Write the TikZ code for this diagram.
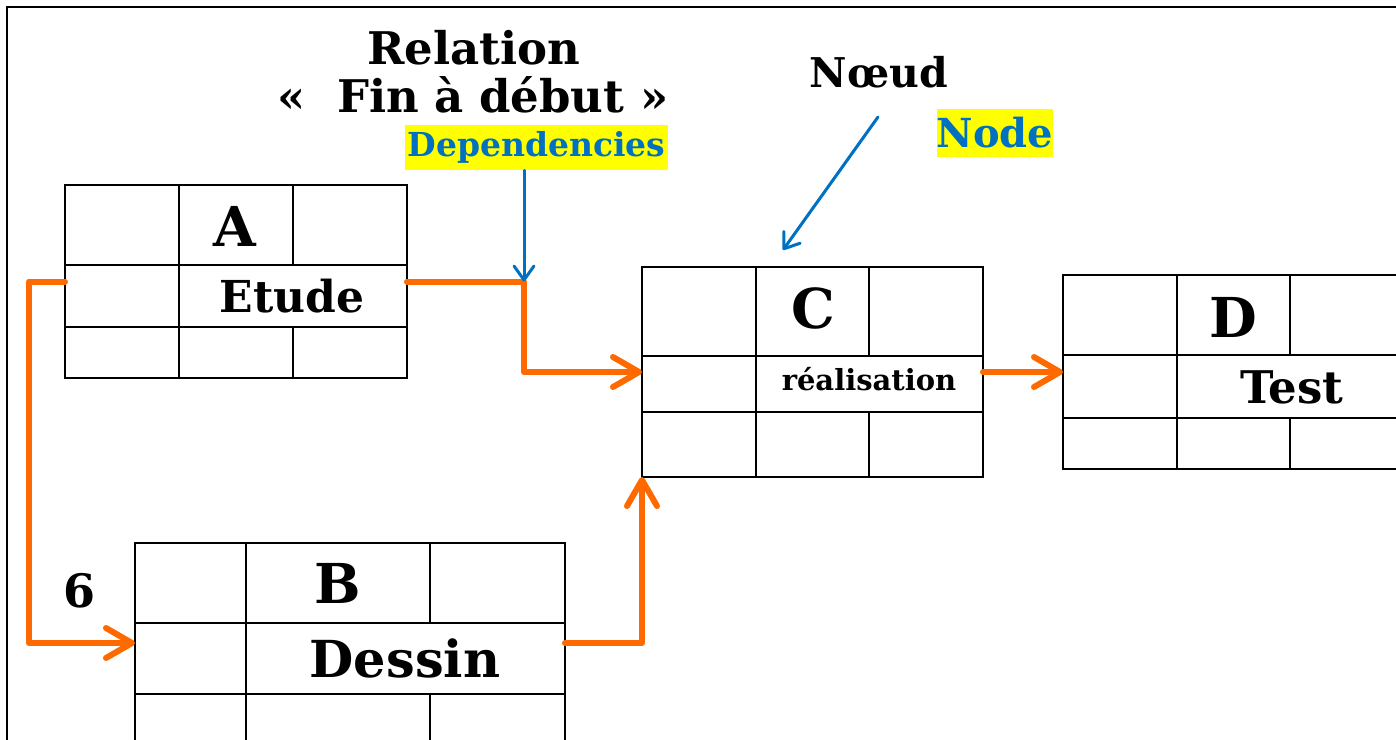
\documentclass[tikz,border=0pt]{standalone}
\usepackage{fontspec}
\setmainfont{DejaVu Serif}
\usetikzlibrary{arrows.meta,fit,calc}
\definecolor{orng}{HTML}{FF6A00}
\definecolor{blu}{HTML}{0070C0}
\definecolor{hlyellow}{HTML}{FFFF00}
\begin{document}
\begin{tikzpicture}[x=0.5pt,y=-0.5pt,
  taskbox/.style={draw=black, line width=1pt, inner sep=0pt, outer sep=0pt},
  cell/.style={draw=black, line width=1pt},
  frame/.style={draw=black, line width=1pt},
  flow/.style={draw=orng, line width=3pt, line join=round, line cap=round,
    -{Straight Barb[length=13pt, width=15pt, line cap=round, line join=round]}},
  pointer/.style={draw=blu, line width=1.5pt, line cap=round,
    -{Straight Barb[length=7pt, width=10pt, line cap=round, line join=round]}},
  title/.style={font=\fontsize{22.5}{26}\selectfont\bfseries, inner sep=0pt},
  hl/.style={fill=hlyellow, text=blu, inner sep=0pt},
  letter/.style={font=\fontsize{27.5}{30}\selectfont\bfseries, inner sep=0pt, anchor=base},
  taskname/.style={font=\fontsize{22.5}{26}\selectfont\bfseries, inner sep=0pt, anchor=base},
]
\clip (0,0) rectangle (1396,739);
\fill[white] (0,0) rectangle (1396,739);
% outer frame
\draw[frame] (7,7) rectangle (1430,780);

% titles
\node[title, anchor=base] (rel) at (474,64) {Relation};
\node[title, anchor=base] (fad) at (473,112) {«~~Fin à début~»};
\node[hl, minimum width=131.5pt, minimum height=22.5pt,
      font=\fontsize{16.5}{19}\selectfont\bfseries] (dep) at (536.5,147.5) {Dependencies};
\node[font=\fontsize{20.5}{24}\selectfont\bfseries, inner sep=0pt, anchor=base] (noeud) at (879,87) {Nœud};
\node[hl, minimum width=55pt, minimum height=24pt,
      font=\fontsize{20}{24}\selectfont\bfseries] (nd) at (995,133) {Node};

% Box A
\node[taskbox, fit={(65,185) (407,378)}] (A) {};
\draw[cell] (65,265) -- (407,265) (65,327) -- (407,327)
  (179,185) -- (179,378) (293,185) -- (293,265) (293,327) -- (293,378);
\node[letter] (Aletter) at (235,246) {A};
\node[taskname, font=\fontsize{22}{26}\selectfont\bfseries] (Aname) at (292,312) {Etude};

% Box C
\node[taskbox, fit={(642,267) (983,477)}] (C) {};
\draw[cell] (642,356) -- (983,356) (642,412) -- (983,412)
  (756,267) -- (756,477) (869,267) -- (869,356) (869,412) -- (869,477);
\node[letter] (Cletter) at (813,328) {C};
\node[font=\fontsize{14.5}{17}\selectfont\bfseries, inner sep=0pt, anchor=base] (Cname) at (869,390) {réalisation};

% Box D
\node[taskbox, fit={(1063,275) (1404,469)}] (D) {};
\draw[cell] (1063,355) -- (1404,355) (1063,418) -- (1404,418)
  (1177,275) -- (1177,469) (1290,275) -- (1290,355) (1290,418) -- (1290,469);
\node[letter] (Dletter) at (1233,337) {D};
\node[taskname] (Dname) at (1292,403) {Test};

% Box B
\node[taskbox, fit={(135,543) (565,743)}] (B) {};
\draw[cell] (135,623) -- (565,623) (135,694) -- (565,694)
  (246,543) -- (246,743) (430,543) -- (430,623) (430,694) -- (430,743);
\node[letter] (Bletter) at (338,603) {B};
\node[font=\fontsize{25.5}{29}\selectfont\bfseries, inner sep=0pt, anchor=base] (Bname) at (405,677) {Dessin};

\node[font=\fontsize{23}{27}\selectfont\bfseries, inner sep=0pt, anchor=base] (six) at (80,607) {6};

% connectors
\coordinate (J) at (524,281.5);
\draw[flow] (A.east) -- (J) |- (C.west);
\draw[flow] (A.west) -- ++(-36,0) |- (B.west);
\draw[flow] (B.east) -| (C.south west);
\draw[flow] (C.east) -- (D.west);

\draw[pointer] (dep.south -| J) -- (J);
\coordinate (nstart) at (878,117);
\coordinate (ntip) at (783,250);
\draw[pointer] (nstart) -- (ntip);
\end{tikzpicture}
\end{document}
